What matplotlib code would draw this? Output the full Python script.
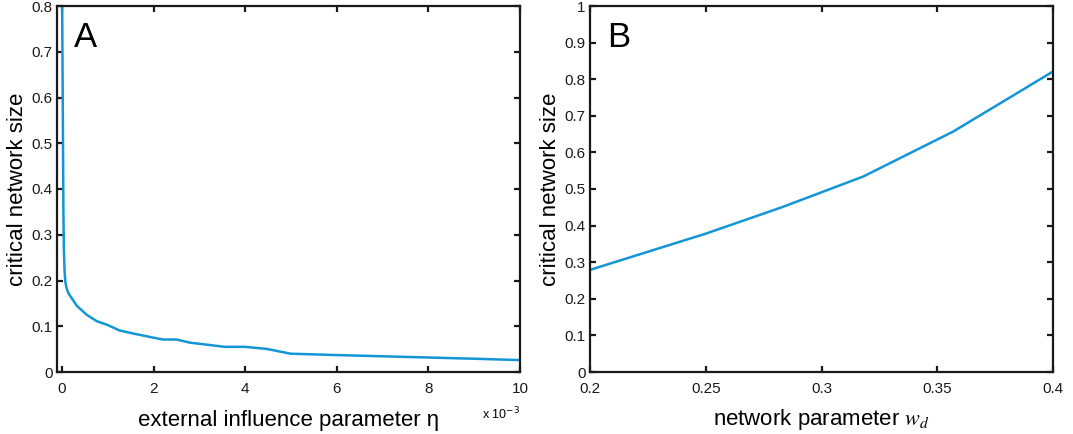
import matplotlib
matplotlib.use("Agg")
import matplotlib.pyplot as plt

plt.rcParams['font.family'] = ['Liberation Sans', 'DejaVu Sans']

# Panel A data (eta in units of 1e-3)
eta = [0.0, 0.015, 0.03, 0.04, 0.055, 0.075, 0.1, 0.14, 0.32, 0.54, 0.76, 0.99, 1.25,
       1.58, 1.95, 2.2, 2.5, 2.8, 3.06, 3.55, 3.99, 4.47, 4.99, 6.0, 7.5, 9.0, 10.0]
size_a = [0.85, 0.6, 0.35, 0.27, 0.22, 0.195, 0.183, 0.172, 0.145, 0.125, 0.111, 0.103, 0.091,
          0.0835, 0.076, 0.071, 0.071, 0.064, 0.061, 0.055, 0.055, 0.0505, 0.040, 0.037,
          0.033, 0.029, 0.026]

# Panel B data
wd = [0.2, 0.25, 0.2828, 0.318, 0.3569, 0.4]
size_b = [0.279, 0.378, 0.450, 0.534, 0.657, 0.821]

a_xticks = [0, 2, 4, 6, 8, 10]
a_yticks = [0, 0.1, 0.2, 0.3, 0.4, 0.5, 0.6, 0.7, 0.8]
b_xticks = [0.2, 0.25, 0.3, 0.35, 0.4]
b_yticks = [0, 0.1, 0.2, 0.3, 0.4, 0.5, 0.6, 0.7, 0.8, 0.9, 1]

line_color = '#1296d6'

fig = plt.figure(figsize=(10.73, 4.34), dpi=100)
axA = fig.add_axes([57/1073, 62/434, 463/1073, 366/434])
axB = fig.add_axes([590/1073, 62/434, 463/1073, 366/434])


def fmt(v):
    return '%g' % v


def style(ax):
    for sp in ax.spines.values():
        sp.set_linewidth(1.6)
        sp.set_color('#1a1a1a')
    ax.tick_params(direction='in', top=True, right=True, length=4, width=1.6,
                   labelsize=11, pad=3, colors='#1a1a1a')
    ax.tick_params(axis='x', pad=7)


axA.plot(eta, size_a, color=line_color, lw=1.8)
axA.set_xlim(-0.11, 10)
axA.set_ylim(0, 0.8)
axA.set_xticks(a_xticks)
axA.set_xticklabels([fmt(v) for v in a_xticks])
axA.set_yticks(a_yticks)
axA.set_yticklabels([fmt(v) for v in a_yticks])
style(axA)
axA.set_ylabel('critical network size', fontsize=16, labelpad=3)
axA.set_xlabel('external influence parameter η', fontsize=16, labelpad=10)
axA.text(1.0, -0.115, r'x 10$^{-3}$', transform=axA.transAxes, fontsize=9,
         ha='right', va='center')
axA.text(0.037, 0.96, 'A', transform=axA.transAxes, fontsize=25, ha='left', va='top')

axB.plot(wd, size_b, color=line_color, lw=1.8)
axB.set_xlim(0.2, 0.4)
axB.set_ylim(0, 1)
axB.set_xticks(b_xticks)
axB.set_xticklabels([fmt(v) for v in b_xticks])
axB.set_yticks(b_yticks)
axB.set_yticklabels([fmt(v) for v in b_yticks])
style(axB)
axB.set_ylabel('critical network size', fontsize=16, labelpad=3)
axB.set_xlabel(r'network parameter $w_d$', fontsize=16, labelpad=8,
               math_fontfamily='stix')
axB.text(0.037, 0.96, 'B', transform=axB.transAxes, fontsize=25, ha='left', va='top')

fig.savefig('out.png', dpi=100)
